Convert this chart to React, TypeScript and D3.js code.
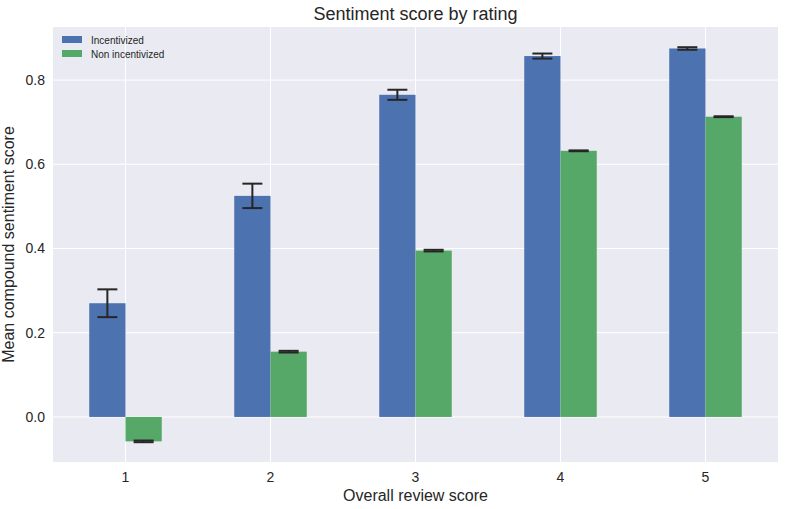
import React from "react";
import * as d3 from "d3";

const ratings = [1, 2, 3, 4, 5];
const incentivized = [0.27, 0.525, 0.765, 0.857, 0.875];
const incentivizedErr = [0.033, 0.029, 0.012, 0.006, 0.003];
const nonIncentivized = [-0.058, 0.155, 0.395, 0.632, 0.713];
const nonIncentivizedErr = [0.002, 0.002, 0.002, 0.001, 0.001];
const yTicks = [0.0, 0.2, 0.4, 0.6, 0.8];

const W = 785;
const H = 509;
const margin = { top: 27, right: 7, bottom: 47, left: 53 };
const font = "Arial, 'Liberation Sans', sans-serif";
const blue = "#4c72b0";
const green = "#55a868";

export default function App() {
  const iw = W - margin.left - margin.right;
  const ih = H - margin.top - margin.bottom;
  const x = d3.scaleLinear().domain([0.5, 5.5]).range([0, iw]);
  const y = d3.scaleLinear().domain([-0.107, 0.926]).range([ih, 0]);
  const bw = (x(2) - x(1)) * 0.25;
  const cap = 10;

  const series = [
    { vals: incentivized, errs: incentivizedErr, color: blue, off: -bw },
    { vals: nonIncentivized, errs: nonIncentivizedErr, color: green, off: 0 },
  ];

  return (
    <svg width={W} height={H} style={{ position: "absolute", left: 0, top: 0 }} fontFamily={font}>
      <rect width={W} height={H} fill="#fff" />
      <g transform={`translate(${margin.left},${margin.top})`}>
        <rect width={iw} height={ih} fill="#eaeaf2" />
        {yTicks.map((t) => (
          <line key={t} x1={0} x2={iw} y1={y(t)} y2={y(t)} stroke="#fff" strokeWidth={1} />
        ))}
        {ratings.map((r) => (
          <line key={r} x1={x(r)} x2={x(r)} y1={0} y2={ih} stroke="#fff" strokeWidth={1} />
        ))}
        {series.map((s, si) =>
          ratings.map((r, i) => {
            const v = s.vals[i];
            const x0 = x(r) + s.off;
            const cx = x0 + bw / 2;
            return (
              <g key={`${si}-${i}`}>
                <rect x={x0} width={bw} y={Math.min(y(v), y(0))} height={Math.abs(y(v) - y(0))} fill={s.color} />
                <g stroke="#262626" strokeWidth={2}>
                  <line x1={cx} x2={cx} y1={y(v - s.errs[i])} y2={y(v + s.errs[i])} />
                  <line x1={cx - cap} x2={cx + cap} y1={y(v - s.errs[i])} y2={y(v - s.errs[i])} />
                  <line x1={cx - cap} x2={cx + cap} y1={y(v + s.errs[i])} y2={y(v + s.errs[i])} />
                </g>
              </g>
            );
          })
        )}
        {yTicks.map((t) => (
          <text key={t} x={-8} y={y(t)} dy="0.35em" textAnchor="end" fontSize={14} fill="#262626">
            {t.toFixed(1)}
          </text>
        ))}
        {ratings.map((r) => (
          <text key={r} x={x(r)} y={ih + 20} textAnchor="middle" fontSize={14} fill="#262626">
            {r}
          </text>
        ))}
        <text x={iw / 2} y={ih + 39} textAnchor="middle" fontSize={16} fill="#262626">
          Overall review score
        </text>
        <text transform={`translate(${-39},${ih / 2}) rotate(-90)`} textAnchor="middle" fontSize={16} fill="#262626">
          Mean compound sentiment score
        </text>
        <text x={iw / 2} y={-7} textAnchor="middle" fontSize={18} fill="#262626">
          Sentiment score by rating
        </text>
        {[
          { label: "Incentivized", color: blue },
          { label: "Non incentivized", color: green },
        ].map((l, i) => (
          <g key={l.label} transform={`translate(9,${9 + i * 14})`}>
            <rect width={20} height={7} fill={l.color} />
            <text x={29} y={4} dy="0.35em" fontSize={10} fill="#262626">
              {l.label}
            </text>
          </g>
        ))}
      </g>
    </svg>
  );
}
